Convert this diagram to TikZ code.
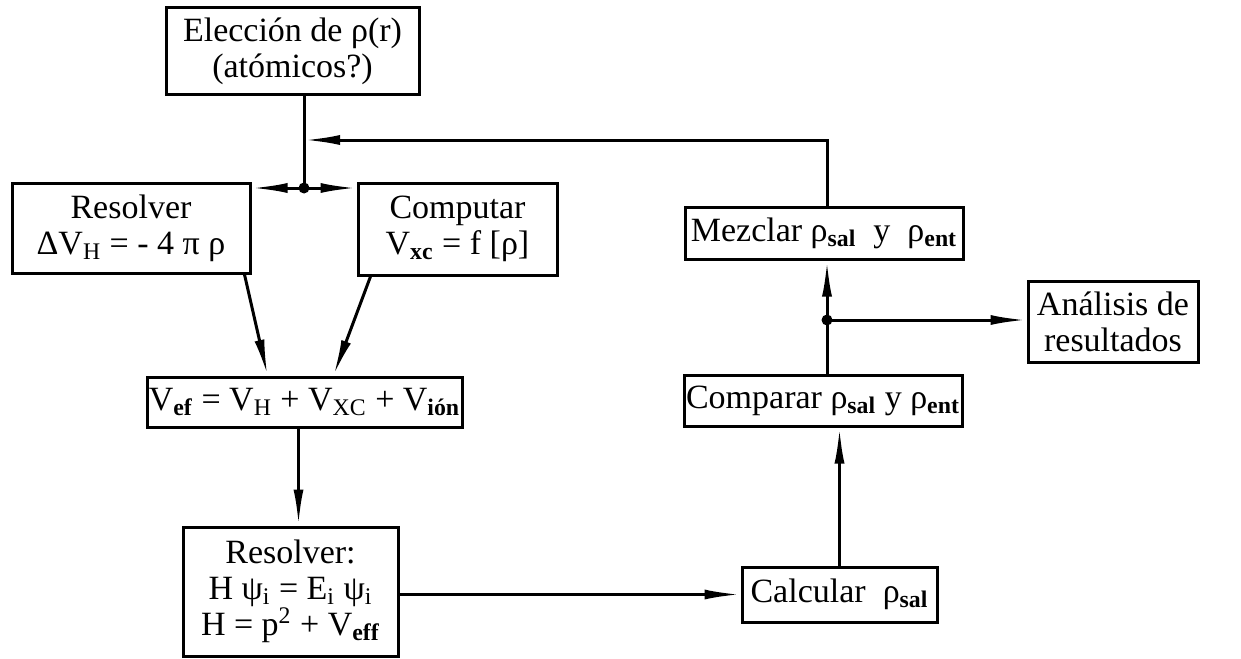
\documentclass[tikz,border=0pt]{standalone}
\usepackage{fontspec}
\setmainfont{Liberation Serif}
\usetikzlibrary{arrows.meta,calc}

\newcommand{\low}[1]{\textsubscript{#1}}
\newcommand{\lowb}[1]{\textsubscript{\textbf{#1}}}

\begin{document}
\begin{tikzpicture}[x=0.5pt, y=-0.5pt, line width=1.5pt,
	box/.style = {draw, inner sep=0pt, align=center, font=\fontsize{17}{18}\selectfont},
	flow/.style = {-{Latex[length=18pt,width=5pt]}},
	dot/.style = {circle, fill, inner sep=0pt, minimum size=5.5pt}]

	% Page frame
	\useasboundingbox (0,0) rectangle (1241,658);

	% Left column
	\node[box, minimum width=126.5pt, minimum height=43.5pt] (elec) at (292.5,51.5)
		{Elección de ρ(r)\\(atómicos?)};
	\node[box, minimum width=119pt, minimum height=45pt] (resv) at (131,228)
		{Resolver\\ΔV\low{H} = - 4 π ρ};
	\node[box, minimum width=99.5pt, minimum height=46pt] (comp) at (457.5,229)
		{Computar\\V\lowb{xc} = f [ρ]};
	\node[box, minimum width=157.5pt, minimum height=25pt] (vef) at (304.5,402)
		{V\lowb{ef} = V\low{H} + V\low{XC} + V\lowb{ión}};
	\node[box, minimum width=107.5pt, minimum height=64.5pt] (ksol) at (290.5,591.5)
		{Resolver:\\H ψ\low{i} = E\low{i} ψ\low{i}\\H = p\textsuperscript{2} + V\lowb{eff}};

	% Right column
	\node[box, minimum width=97.5pt, minimum height=27.5pt] (calc) at (839.5,594.5)
		{Calcular\ \ ρ\lowb{sal}};
	\node[box, minimum width=139pt, minimum height=25.5pt] (cmp) at (823,400.5)
		{Comparar ρ\lowb{sal}\ y ρ\lowb{ent}};
	\node[box, minimum width=139pt, minimum height=26pt] (mez) at (824,233)
		{Mezclar ρ\lowb{sal}\ \ y\ \ ρ\lowb{ent}};
	\node[box, minimum width=85pt, minimum height=40.5pt] (anal) at (1113,321.5)
		{Análisis de\\resultados};

	% Junctions
	\coordinate (j1) at (304,188);
	\coordinate (fb) at (304,140);
	\coordinate (j2) at (827,320);
	\coordinate (vk) at ($(vef.south)+(-6,0)$);
	\node[dot] (d1) at (j1) {};
	\node[dot] (d2) at (j2) {};

	% Connectors
	\draw (j1 |- elec.south) -- (j1);
	\draw[flow] (j1) -- (j1 -| resv.east);
	\draw[flow] (j1) -- (j1 -| comp.west);
	\draw[flow] ($(resv.south east)+(-7,0)$) -- ($(vef.north)+(-37,0)$);
	\draw[flow] ($(comp.south west)+(14,0)$) -- ($(vef.north)+(29,0)$);
	\draw[flow] (vk) -- (vk |- ksol.north);
	\draw[flow] (ksol.east |- calc) -- (calc.west);
	\draw[flow] (calc.north) -- (calc.north |- cmp.south);
	\draw (j2 |- cmp.north) -- (j2);
	\draw[flow] (j2) -- (j2 |- mez.south);
	\draw[flow] (j2) -- (j2 -| anal.west);
	\draw[flow] (j2 |- mez.north) |- (fb);

\end{tikzpicture}
\end{document}
